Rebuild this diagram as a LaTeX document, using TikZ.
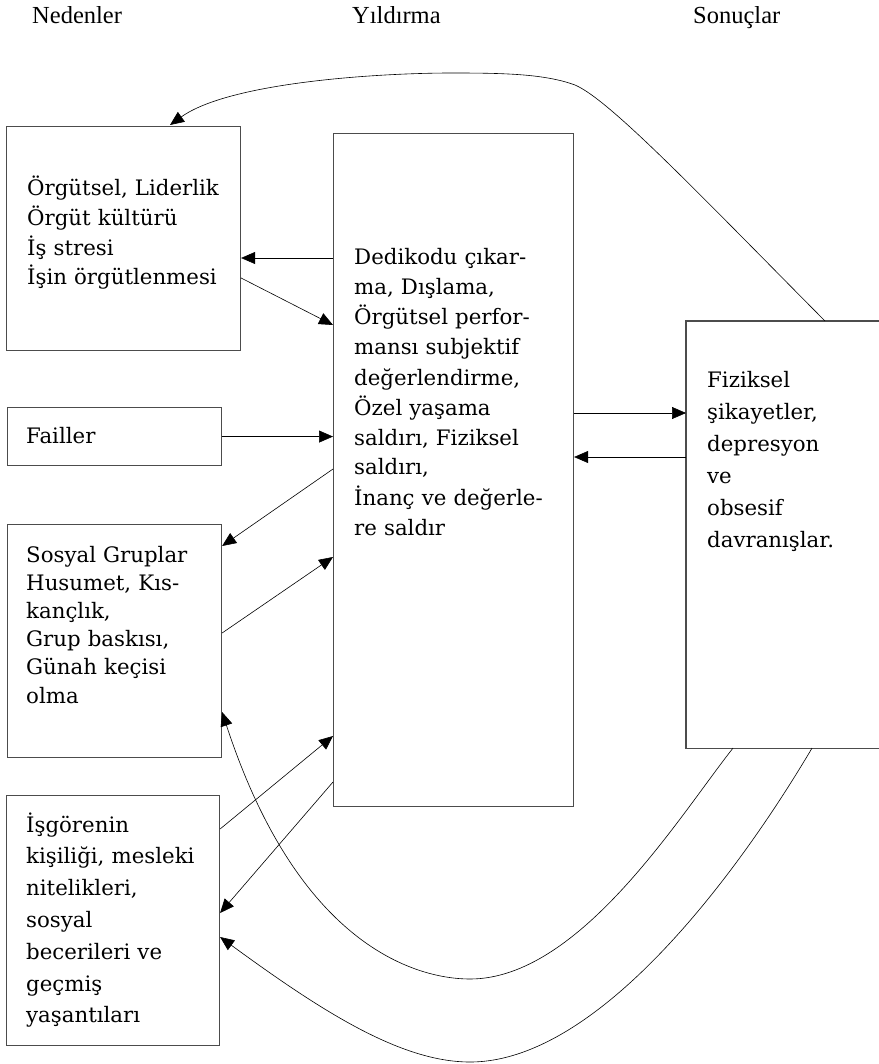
\documentclass[tikz,border=0pt]{standalone}
\usepackage{fontspec}
\setmainfont{DejaVu Serif}
\newfontfamily\hdrfont{Liberation Serif}
\usetikzlibrary{arrows.meta,calc}
\begin{document}
\begin{tikzpicture}[x=1pt,y=-1pt,
  box/.style={draw=black!70, line width=1.1pt, inner sep=0pt, anchor=north west},
  conn/.style={draw=black, line width=0.6pt, -{Triangle[length=14pt,width=12pt]}},
  txt/.style={inner sep=0pt, anchor=base west, align=left, text width=200pt},
  hdr/.style={inner sep=0pt, anchor=base west, font=\hdrfont\fontsize{24.5}{29}\selectfont}]
\useasboundingbox (0,0) rectangle (878,1064);
% headers
\node[hdr] (h1) at (32,24) {Nedenler};
\node[hdr] (h2) at (352,24) {Yıldırma};
\node[hdr] (h3) at (693,24) {Sonuçlar};
% boxes
\node[box, minimum width=234pt, minimum height=224pt] (b1) at (6,126) {};
\node[box, minimum width=240pt, minimum height=673pt] (mid) at (333,133) {};
\node[box, minimum width=214pt, minimum height=58pt] (fail) at (7,407) {};
\node[box, minimum width=214pt, minimum height=233pt] (sos) at (7,524) {};
\node[box, minimum width=213pt, minimum height=250pt] (isg) at (6,795) {};
\node[box, draw=none, minimum width=192pt, minimum height=426pt] (res) at (686,321) {};
\draw[black!70, line width=1.1pt] (res.north east) -- (res.north west) -- (res.south west) -- (res.south east);
% texts
\node[txt, font=\fontsize{21.3}{29.6}\selectfont] (t1) at (27,196)
  {Örgütsel, Liderlik\\Örgüt kültürü\\İş stresi\\İşin örgütlenmesi};
\node[txt, font=\fontsize{21.3}{30}\selectfont] (tmid) at (354,265)
  {Dedikodu çıkar-\\ma, Dışlama,\\Örgütsel perfor-\\mansı subjektif\\değerlendirme,\\Özel yaşama\\saldırı, Fiziksel\\saldırı,\\İnanç ve değerle-\\re saldır};
\node[txt, text width=165pt, font=\fontsize{21.3}{32}\selectfont] (tres) at (707,387)
  {Fiziksel\\şikayetler,\\depresyon\\ve\\obsesif\\davranışlar.};
\node[txt, font=\fontsize{21.3}{30}\selectfont] (tfail) at (26,443) {Failler};
\node[txt, font=\fontsize{21.3}{28.2}\selectfont] (tsos) at (26,562)
  {Sosyal Gruplar\\Husumet, Kıs-\\kançlık,\\Grup baskısı,\\Günah keçisi\\olma};
\node[txt, font=\fontsize{21.3}{31.8}\selectfont] (tisg) at (26,832)
  {İşgörenin\\kişiliği, mesleki\\nitelikleri,\\sosyal\\becerileri ve\\geçmiş\\yaşantıları};
% straight connectors
\draw[conn] ($(mid.north west)+(0,125)$) -- ($(b1.north east)+(0,132)$);
\draw[conn] ($(b1.north east)+(0,152)$) -- ($(mid.north west)+(0,192)$);
\draw[conn] (fail.east) -- (fail.east -| mid.west);
\draw[conn] ($(mid.north west)+(0,336)$) -- ($(sos.north east)+(0,22)$);
\draw[conn] ($(sos.north east)+(0,109)$) -- ($(mid.north west)+(0,424)$);
\draw[conn] ($(isg.north east)+(0,34)$) -- ($(mid.north west)+(0,603)$);
\draw[conn] ($(mid.north west)+(0,649)$) -- ($(isg.north east)+(0,118)$);
\draw[conn] ($(mid.north east)+(0,280)$) -- ($(res.north west)+(0,92)$);
\draw[conn] ($(res.north west)+(0,136)$) -- ($(mid.north east)+(0,324)$);
% curved connectors
\draw[conn] ($(res.north west)+(139,0)$) .. controls (700,195) and (610,100) .. (575,85)
  .. controls (545,74) and (505,73) .. (452,73)
  .. controls (380,73) and (230,82) .. ($(b1.north west)+(164,-1)$);
\draw[conn] ($(res.south west)+(47,0)$) .. controls (680,815) and (580,979) .. (470,979)
  .. controls (420,979) and (300,950) .. ($(sos.north east)+(0,188)$);
\draw[conn] ($(res.south west)+(126,0)$) .. controls (740,870) and (600,1062) .. (470,1062)
  .. controls (400,1062) and (320,1010) .. ($(isg.north east)+(0,142)$);
\end{tikzpicture}
\end{document}
